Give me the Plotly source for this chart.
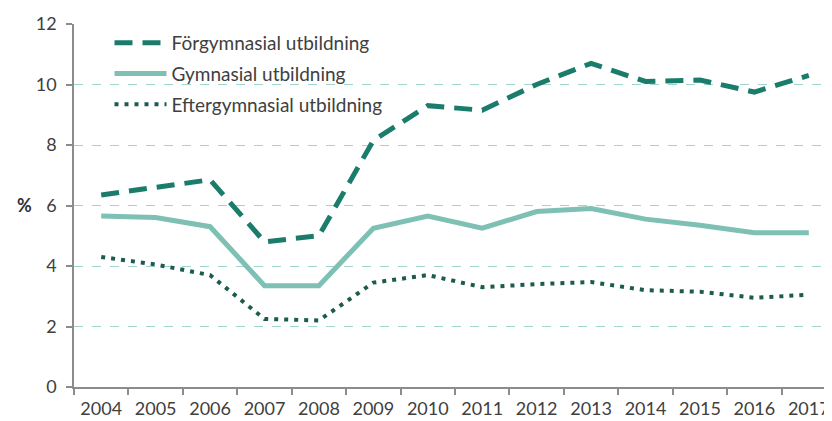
import plotly.graph_objects as go

# Årtal och andel (%) per utbildningsnivå
years = ['2004', '2005', '2006', '2007', '2008', '2009', '2010',
         '2011', '2012', '2013', '2014', '2015', '2016', '2017']
forgymnasial = [6.35, 6.6, 6.85, 4.8, 5.0, 8.15, 9.3, 9.15, 10.0, 10.7, 10.1, 10.15, 9.75, 10.3]
gymnasial = [5.65, 5.6, 5.3, 3.35, 3.35, 5.25, 5.65, 5.25, 5.8, 5.9, 5.55, 5.35, 5.1, 5.1]
eftergymnasial = [4.3, 4.05, 3.7, 2.25, 2.2, 3.45, 3.7, 3.3, 3.4, 3.47, 3.2, 3.15, 2.95, 3.05]
y_ticks = [0, 2, 4, 6, 8, 10, 12]

FONT = 'Lato, Open Sans, sans-serif'
AXIS_GREY = '#8c8c8c'

# marginaler (sidan har 8px body-marginal, så allt förskjuts)
L, R, T, B = 66, 4, 16, 42
W, H = 832, 421
PW, PH = W - L - R, H - T - B

fig = go.Figure()
fig.add_trace(go.Scatter(x=years, y=forgymnasial, mode='lines', name='Förgymnasial utbildning',
                         legendgroup='a', line=dict(color='#1b7c6b', width=5, dash='18px,10px')))
fig.add_trace(go.Scatter(x=years, y=gymnasial, mode='lines', name='Gymnasial utbildning',
                         legendgroup='b', line=dict(color='#7fc0b4', width=5)))
fig.add_trace(go.Scatter(x=years, y=eftergymnasial, mode='lines', name='Eftergymnasial utbildning',
                         legendgroup='c', line=dict(color='#1c5c4e', width=4, dash='4px,6px')))

fig.update_layout(
    width=W, height=H,
    margin=dict(l=L, r=R, t=T, b=B),
    plot_bgcolor='white', paper_bgcolor='white',
    font=dict(family=FONT, size=18, color='#404040'),
    showlegend=True,
    legend=dict(x=(109.5 - 74) / PW, y=1.0, xanchor='left', yanchor='top',
                bgcolor='rgba(0,0,0,0)', font=dict(size=19, color='#404040'),
                itemwidth=52, tracegroupgap=3),
)
fig.update_xaxes(type='category', range=[-0.5, 13.5], showgrid=False,
                 showline=True, linecolor=AXIS_GREY, linewidth=1.5,
                 ticks='outside', tickson='boundaries', ticklen=6, tickcolor=AXIS_GREY,
                 tickwidth=1.5, ticklabelstandoff=5, tickfont=dict(size=18, color='#404040'))
fig.update_yaxes(range=[0, 12], tickvals=y_ticks, showline=True, linecolor=AXIS_GREY,
                 linewidth=1.5, ticks='outside', ticklen=6, tickcolor=AXIS_GREY, tickwidth=1.5,
                 ticklabelstandoff=6,
                 showgrid=True, gridcolor='#9fd4cf', gridwidth=1.3, griddash='dash',
                 zeroline=False, tickfont=dict(size=18, color='#404040'))

# "%" vid y-axeln, placerad i pixlar omräknat till paper-koordinater
fig.add_annotation(text='<b>%</b>', x=(7 - L) / PW, y=(H - B - 197) / PH,
                   xref='paper', yref='paper', showarrow=False,
                   font=dict(size=18, color='#303030'))

fig.write_html('out.html')
